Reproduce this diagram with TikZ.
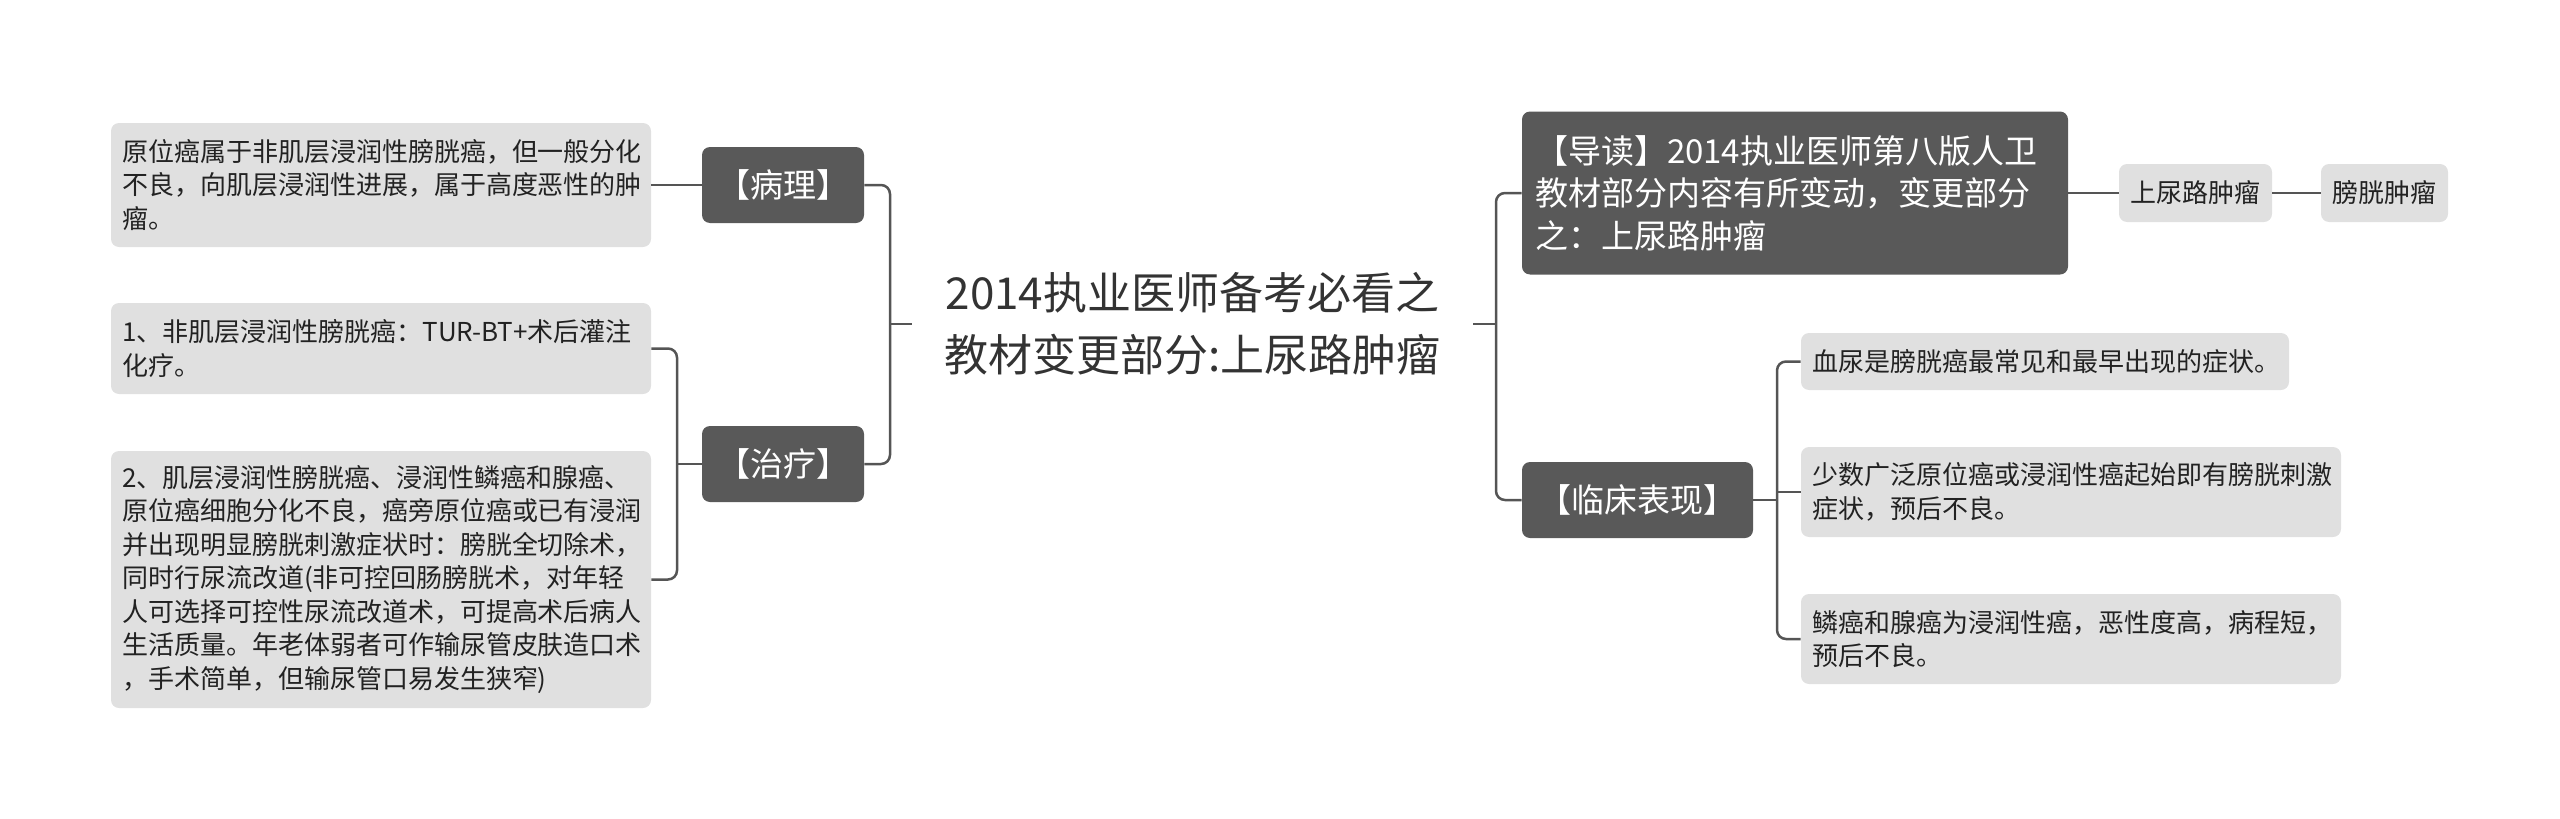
\documentclass[tikz,border=0pt]{standalone}
\usepackage{fontspec}
\setmainfont{Noto Sans CJK SC}
\definecolor{darkbox}{RGB}{89,89,89}
\definecolor{lightbox}{RGB}{224,224,224}
\definecolor{linecol}{RGB}{85,85,85}
\definecolor{leaftext}{RGB}{34,34,34}
\definecolor{roottext}{RGB}{51,51,51}
\tikzset{
  darkn/.style={fill=darkbox, text=white, rounded corners=4pt, inner sep=0pt,
    align=center, font=\fontsize{16.5pt}{21.25pt}\selectfont},
  lightn/.style={fill=lightbox, text=leaftext, rounded corners=4pt, inner xsep=5.5pt,
    inner ysep=0pt, align=left, font=\fontsize{13pt}{16.75pt}\selectfont},
  smalln/.style={fill=lightbox, text=leaftext, rounded corners=4pt, inner sep=0pt,
    align=center, font=\fontsize{13pt}{16.75pt}\selectfont},
  conn/.style={draw=linecol, line width=1.25pt, rounded corners=4.5pt}
}
\begin{document}
\begin{tikzpicture}[x=0.5pt,y=-0.5pt]
\useasboundingbox (0,0) rectangle (2560,819);

% root
\node[text=roottext, align=center, minimum width=280.5pt, inner sep=0pt,
  font=\fontsize{22pt}{31pt}\selectfont] (root) at (1192.5,324)
  {2014执业医师备考必看之\\教材变更部分:上尿路肿瘤};

% left side
\node[darkn, minimum width=81pt, minimum height=38pt] (bingli) at (783,185) {【病理】};
\node[darkn, minimum width=81pt, minimum height=38pt] (zhiliao) at (783,464) {【治疗】};

\node[lightn, text width=259pt, minimum height=62pt] (p1) at (381,185)
  {原位癌属于非肌层浸润性膀胱癌，但一般分化\\不良，向肌层浸润性进展，属于高度恶性的肿\\瘤。};
\node[lightn, text width=259pt, minimum height=45.5pt] (t1) at (381,348.5)
  {1、非肌层浸润性膀胱癌：TUR-BT+术后灌注\\化疗。};
\node[lightn, text width=259pt, minimum height=128.5pt] (t2) at (381,579.5)
  {2、肌层浸润性膀胱癌、浸润性鳞癌和腺癌、\\原位癌细胞分化不良，癌旁原位癌或已有浸润\\并出现明显膀胱刺激症状时：膀胱全切除术，\\同时行尿流改道(非可控回肠膀胱术，对年轻\\人可选择可控性尿流改道术，可提高术后病人\\生活质量。年老体弱者可作输尿管皮肤造口术\\，手术简单，但输尿管口易发生狭窄)};

% right side
\node[darkn, align=left, inner xsep=6.5pt, text width=260pt, minimum height=81.5pt] (daodu) at (1795,193)
  {【导读】2014执业医师第八版人卫\\教材部分内容有所变动，变更部分\\之：上尿路肿瘤};
\node[smalln, minimum width=76.5pt, minimum height=29pt] (sny) at (2195.5,193) {上尿路肿瘤};
\node[smalln, minimum width=63.5pt, minimum height=29pt] (pgzl) at (2384.5,193) {膀胱肿瘤};

\node[darkn, minimum width=115.5pt, minimum height=38pt] (linchuang) at (1637.5,500) {【临床表现】};

\node[lightn, text width=233pt, minimum height=28.5pt] (c1) at (2045,361.5)
  {血尿是膀胱癌最常见和最早出现的症状。};
\node[lightn, text width=259pt, minimum height=45pt] (c2) at (2071,492)
  {少数广泛原位癌或浸润性癌起始即有膀胱刺激\\症状，预后不良。};
\node[lightn, text width=259pt, minimum height=45pt] (c3) at (2071,639)
  {鳞癌和腺癌为浸润性癌，恶性度高，病程短，\\预后不良。};

% spines
\coordinate (sLeft) at (890,324);
\coordinate (sRight) at (1496,324);
\coordinate (sZ) at (677,464);
\coordinate (sC) at (1777,500);

% connectors
\draw[conn] (root.west) -- (sLeft);
\draw[conn] (bingli.east) -| (sLeft) |- (zhiliao.east);
\draw[conn] (p1.east) -- (bingli.west);
\draw[conn] (zhiliao.west) -- (sZ);
\draw[conn] (t1.east) -| (sZ) |- (t2.east);

\draw[conn] (root.east) -- (sRight);
\draw[conn] (daodu.west) -| (sRight) |- (linchuang.west);
\draw[conn] (daodu.east) -- (sny.west);
\draw[conn] (sny.east) -- (pgzl.west);
\draw[conn] (linchuang.east) -- (sC);
\draw[conn] (c1.west) -| (sC) |- (c3.west);
\draw[conn] (c2.west) -- (c2.west -| sC);
\end{tikzpicture}
\end{document}
